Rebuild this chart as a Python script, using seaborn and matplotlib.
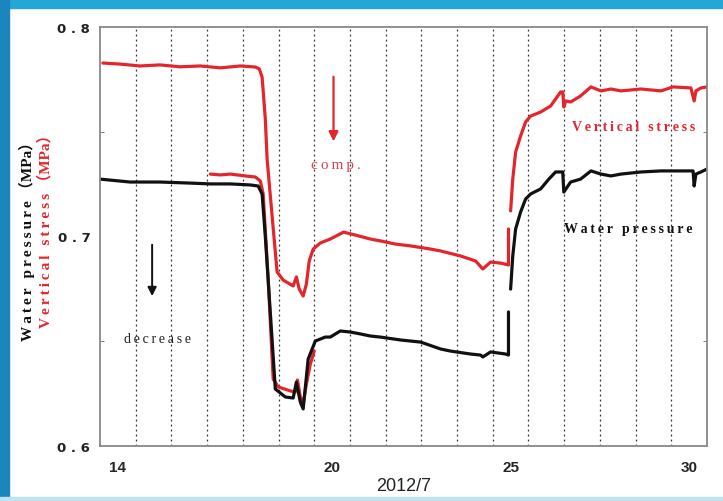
import numpy as np
import pandas as pd
import matplotlib
matplotlib.use("Agg")
import matplotlib.pyplot as plt
import seaborn as sns
from matplotlib.patches import Rectangle

# days of July 2012 (axis spans day 14 .. day 30), values in MPa
nan = np.nan

vs_days = [13.58, 14.06, 14.62, 15.18, 15.74, 16.31, 16.87, 17.43, 17.85, 17.96,
           18.04, 18.13, 18.18, 18.32, 18.46, 18.63, 18.91, 19.0, 19.08, 19.19,
           19.28, 19.36, 19.47, 19.67, 19.95, 20.32, 20.65, 21.07, 21.35, 21.77,
           22.2, 22.76, 23.04, 23.6, 24.02, 24.22, 24.44, 24.72, 24.94, 24.94,
           nan,
           25.0, 25.06, 25.14, 25.28, 25.42, 25.56, 25.84, 26.12, 26.26, 26.4,
           26.46, 26.49, 26.54, 26.68, 26.96, 27.25, 27.53, 27.81, 28.09, 28.65,
           29.21, 29.55, 30.05, 30.14, 30.19, 30.33, 30.5]
vs_vals = [0.7828, 0.7823, 0.7814, 0.7819, 0.7810, 0.7814, 0.7805, 0.7814, 0.7809, 0.7800,
           0.7761, 0.7561, 0.7370, 0.7098, 0.6831, 0.6792, 0.6764, 0.6807, 0.6749, 0.6716,
           0.6773, 0.6883, 0.6940, 0.6969, 0.6988, 0.7021, 0.7007, 0.6988, 0.6979, 0.6964,
           0.6955, 0.6940, 0.6931, 0.6907, 0.6883, 0.6845, 0.6878, 0.6873, 0.6864, 0.7036,
           nan,
           0.7122, 0.7274, 0.7403, 0.7480, 0.7547, 0.7575, 0.7594, 0.7623, 0.7656, 0.7690,
           0.7690, 0.7618, 0.7647, 0.7642, 0.7671, 0.7714, 0.7695, 0.7704, 0.7695, 0.7704,
           0.7695, 0.7714, 0.7709, 0.7647, 0.7695, 0.7709, 0.7714]

vs2_days = [16.59, 16.87, 17.15, 17.57, 17.85, 17.99, 18.07, 18.21, 18.35, 18.49,
            18.83, 18.97, 19.03, 19.11, 19.19, 19.28, 19.39, 19.50]
vs2_vals = [0.7298, 0.7294, 0.7298, 0.7289, 0.7284, 0.7265, 0.7203, 0.6797, 0.6320, 0.6282,
            0.6263, 0.6258, 0.6315, 0.6234, 0.6200, 0.6296, 0.6391, 0.6453]

wp_days = [13.5, 14.34, 15.18, 16.02, 16.59, 17.15, 17.71, 17.93, 18.04, 18.13,
           18.41, 18.69, 18.91, 19.0, 19.11, 19.19, 19.33, 19.53, 19.81, 19.95,
           20.23, 20.51, 20.79, 21.07, 21.35, 21.92, 22.48, 23.04, 23.32, 23.88,
           24.16, 24.22, 24.44, 24.86, 24.94, 24.94,
           nan,
           25.0, 25.06, 25.14, 25.28, 25.42, 25.56, 25.84, 26.07, 26.26, 26.46,
           26.49, 26.68, 26.96, 27.25, 27.53, 27.81, 28.09, 28.65, 29.21, 29.77,
           30.11, 30.14, 30.19, 30.33, 30.5]
wp_vals = [0.7274, 0.7260, 0.7260, 0.7255, 0.7251, 0.7251, 0.7246, 0.7241, 0.7203, 0.7000,
           0.6272, 0.6234, 0.6229, 0.6305, 0.6210, 0.6177, 0.6415, 0.6501, 0.6520, 0.6520,
           0.6549, 0.6544, 0.6535, 0.6525, 0.6520, 0.6506, 0.6496, 0.6463, 0.6453, 0.6439,
           0.6434, 0.6425, 0.6449, 0.6439, 0.6434, 0.6640,
           nan,
           0.6749, 0.6907, 0.7036, 0.7117, 0.7179, 0.7203, 0.7227, 0.7274, 0.7308, 0.7308,
           0.7212, 0.7260, 0.7274, 0.7313, 0.7298, 0.7289, 0.7298, 0.7308, 0.7313, 0.7313,
           0.7313, 0.7241, 0.7298, 0.7308, 0.7322]

x_ticks = [14, 20, 25, 30]
y_ticks = [0.6, 0.7, 0.8]
y_labels = ["0 . 6", "0 . 7", "0 . 8"]


def to_frame(days, vals, name):
    df = pd.DataFrame({"day": days, "mpa": vals})
    df["seg"] = df["day"].isna().cumsum()
    df = df.dropna()
    df["seg"] = name + df["seg"].astype(str)
    return df


def spaced(s):
    # letter-spaced look of the original labels
    return "\u2009".join(s)


sns.set_style("white")
fig = plt.figure(figsize=(7.23, 5.02), dpi=100)
ax = fig.add_axes([100 / 723, 55 / 502, 607 / 723, 419 / 502])

red = "#e3262b"
black = "#111111"
for df, col in [(to_frame(vs_days, vs_vals, "a"), red),
                (to_frame(vs2_days, vs2_vals, "b"), red),
                (to_frame(wp_days, wp_vals, "c"), black)]:
    sns.lineplot(data=df, x="day", y="mpa", units="seg", estimator=None,
                 sort=False, color=col, lw=2.3, ax=ax)

ax.set_xlim(13.5, 30.5)
ax.set_ylim(0.6, 0.8)
for g in np.arange(14.5, 30.0, 1.0):
    ax.axvline(g, color="#333333", lw=0.9, ls=(0, (1.5, 2.5)), zorder=0)

ax.set_xticks(x_ticks)
ax.set_xticklabels([str(t) for t in x_ticks], fontsize=11, fontweight="bold",
                   family="Liberation Sans")
ax.set_yticks(y_ticks)
ax.set_yticklabels(y_labels, fontsize=9.5, fontweight="bold", family="DejaVu Sans",
                   color="#222222")
ax.set_yticks([0.65, 0.7, 0.75], minor=True)
ax.tick_params(axis="x", length=0, pad=10)
ax.tick_params(axis="y", which="major", length=0, pad=7)
ax.tick_params(axis="y", which="minor", length=3, direction="in", left=True,
               right=True, color="#666666")
ax.set_xlabel("2012/7", fontsize=13, family="Liberation Sans", labelpad=2,
              color="#222222")
ax.set_ylabel("")
for s in ax.spines.values():
    s.set_color("#888888")
    s.set_linewidth(1.3)

serif = ["Liberation Serif", "DejaVu Serif", "Noto Sans CJK SC"]
fig.text(27 / 723, 1 - 238 / 502, spaced("Water pressure") + " （MPa）", rotation=90,
         ha="center", va="center", fontsize=11, fontweight="bold", family=serif,
         color=black)
fig.text(45 / 723, 1 - 228 / 502, spaced("Vertical stress") + " （MPa）", rotation=90,
         ha="center", va="center", fontsize=11, fontweight="bold", family=serif,
         color=red)

ax.annotate("", xy=(20.04, 0.7441), xytext=(20.04, 0.7776),
            arrowprops=dict(arrowstyle="-|>", color=red, lw=1.6, mutation_scale=14))
ax.text(20.1, 0.7346, spaced("comp."), color="#d0454a", fontsize=11, family=serif,
        ha="center", va="center")
ax.annotate("", xy=(14.96, 0.6702), xytext=(14.96, 0.6974),
            arrowprops=dict(arrowstyle="-|>", color=black, lw=1.4, mutation_scale=13))
ax.text(15.1, 0.6511, spaced("decrease"), color="#222222", fontsize=10,
        family=serif, ha="center", va="center")
ax.text(28.45, 0.7523, spaced("Vertical stress"), color=red, fontsize=10,
        fontweight="bold", family=serif, ha="center", va="center")
ax.text(28.3, 0.7036, spaced("Water pressure"), color=black, fontsize=10,
        fontweight="bold", family=serif, ha="center", va="center")

# blue frame strips of the screenshot
fig.patches.append(Rectangle((0, 1 - 9 / 502), 1, 9 / 502, transform=fig.transFigure,
                             color="#25a7d6", zorder=5))
fig.patches.append(Rectangle((0, 0), 9 / 723, 1, transform=fig.transFigure,
                             color="#1a86bd", zorder=5))
fig.patches.append(Rectangle((0, 0), 1, 4 / 502, transform=fig.transFigure,
                             color="#bfe3f0", zorder=5))

fig.savefig("out.png", dpi=100)
